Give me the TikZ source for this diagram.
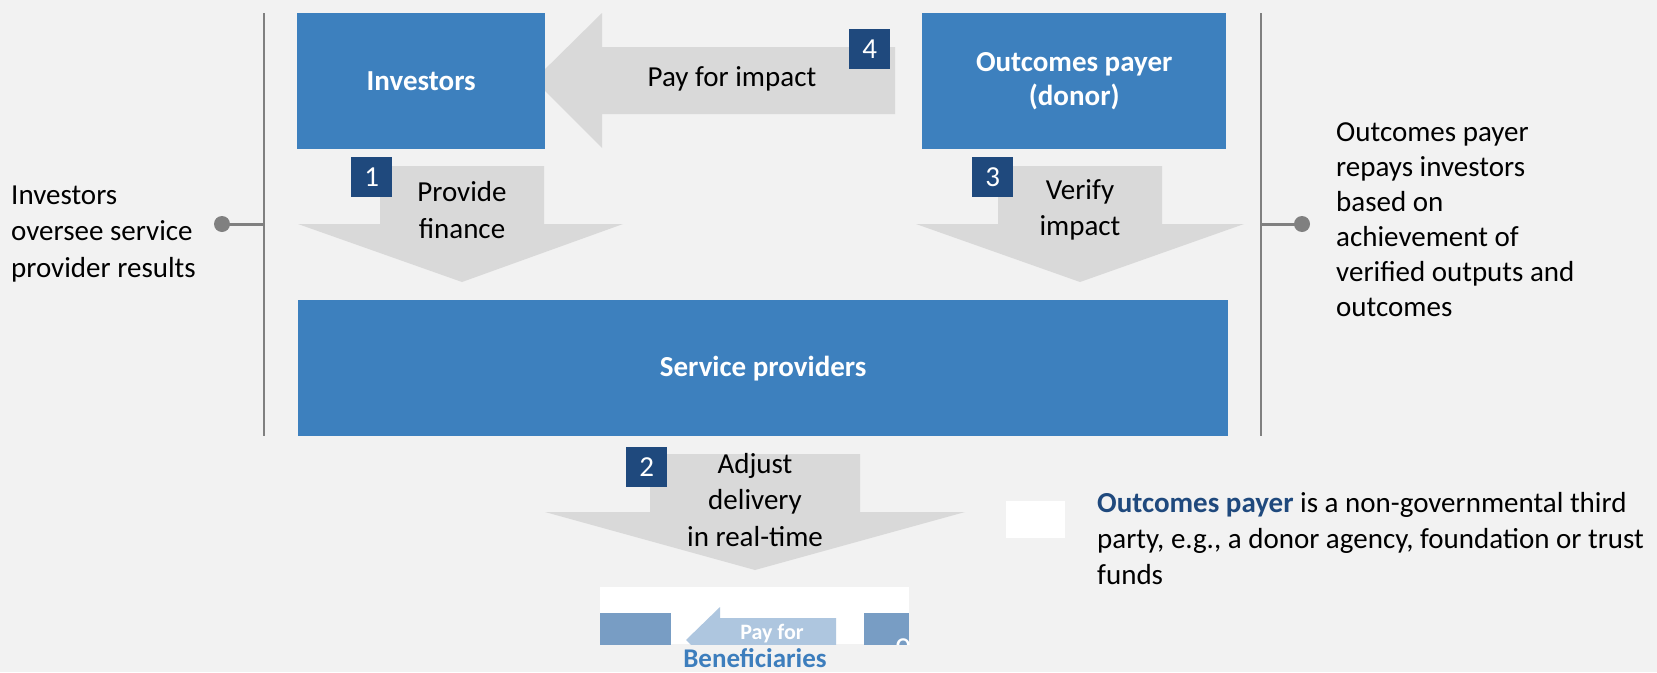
\documentclass[tikz,border=0pt]{standalone}
\usepackage{fontspec}
\setmainfont{Carlito}
\definecolor{bg}{HTML}{F2F2F2}
\definecolor{boxblue}{HTML}{3D80BE}
\definecolor{numblue}{HTML}{1F497D}
\definecolor{arrgray}{HTML}{D9D9D9}
\definecolor{linegray}{HTML}{808080}
\definecolor{thumbblue}{HTML}{789DC4}
\definecolor{thumbarrow}{HTML}{AEC6DF}
\definecolor{benblue}{HTML}{3D7EBD}
\tikzset{
  bluebox/.style={fill=boxblue, anchor=north west, inner sep=0pt, text=white,
    font=\fontsize{29}{34}\selectfont\bfseries, align=center},
  numbox/.style={fill=numblue, anchor=north west, inner sep=0pt, text=white,
    minimum width=41pt, minimum height=40pt, font=\fontsize{29}{34}\selectfont},
  arrowshape/.style={fill=arrgray},
  arrowlabel/.style={inner sep=0pt, align=center, font=\fontsize{29}{36.5}\selectfont},
  sidetext/.style={inner sep=0pt, align=left, anchor=west},
  sidefont/.style={font=\fontsize{29}{36.5}\selectfont},
  rightfont/.style={font=\fontsize{29}{35}\selectfont},
  vline/.style={draw=linegray, line width=2.5pt},
  tick/.style={draw=linegray, line width=3pt},
  dotmark/.style={fill=linegray}
}
\begin{document}
\begin{tikzpicture}[x=1pt,y=-1pt]
\fill[bg] (0,0) rectangle (1657,672);
\useasboundingbox (0,0) rectangle (1657,672);

% block arrows
\fill[arrowshape] (534,80) -- (602,13) -- (602,47) -- (895,47) -- (895,114) -- (602,114) -- (602,148) -- cycle;
\fill[arrowshape] (380,166) -- (544,166) -- (544,224) -- (623,224) -- (462,282) -- (298,224) -- (380,224) -- cycle;
\fill[arrowshape] (998,166) -- (1162,166) -- (1162,224) -- (1244,224) -- (1080,282) -- (916,224) -- (998,224) -- cycle;
\fill[arrowshape] (650,454) -- (860,454) -- (860,512) -- (965,512) -- (755,570) -- (545,512) -- (650,512) -- cycle;

% main boxes
\node[bluebox, minimum width=248pt, minimum height=136pt] (inv) at (297,13) {Investors};
\node[bluebox, minimum width=304pt, minimum height=136pt] (out) at (922,13) {Outcomes payer\\(donor)};
\node[bluebox, minimum width=930pt, minimum height=136pt] (sp) at (298,300) {Service providers};

% arrow labels
\node[arrowlabel] (lpay) at (732,79) {Pay for impact};
\node[arrowlabel] (lfin) at (462,210) {Provide\\finance};
\node[arrowlabel] (lver) at (1080,210) {Verify\\impact};
\node[arrowlabel] (ladj) at (755,500) {Adjust\\delivery\\in real-time};

% number boxes
\node[numbox] (n4) at (849,29) {4};
\node[numbox] (n1) at (351,157) {1};
\node[numbox] (n3) at (972,157) {3};
\node[numbox] (n2) at (626,447) {2};

% side lines
\coordinate (lt) at (264,13);
\coordinate (lb) at (264,436);
\coordinate (lm) at (264,224);
\coordinate (rt) at (1261,13);
\coordinate (rb) at (1261,436);
\coordinate (rm) at (1261,224);
\draw[vline] (lt) -- (lb);
\draw[vline] (rt) -- (rb);
\node[circle, dotmark, minimum size=16pt, inner sep=0pt] (ldot) at (222,224) {};
\node[circle, dotmark, minimum size=16pt, inner sep=0pt] (rdot) at (1302,224) {};
\draw[tick] (ldot.center) -- (lm);
\draw[tick] (rm) -- (rdot.center);

% side texts
\node[sidetext, sidefont] (ltext) at (11,234) {Investors\\oversee service\\provider results};
\node[sidetext, rightfont] (rtext) at (1336,220) {Outcomes payer\\repays investors\\based on\\achievement of\\verified outputs and\\outcomes};

% legend
\node[fill=white, anchor=north west, minimum width=59pt, minimum height=37pt, inner sep=0pt] (legsq) at (1006,501) {};
\node[sidetext, font=\fontsize{29}{36}\selectfont] (legtext) at (1097,539)
  {\textcolor{numblue}{\bfseries Outcomes payer} is a non-governmental third\\party, e.g., a donor agency, foundation or trust\\funds};

% thumbnail
\node[fill=white, anchor=north west, minimum width=309pt, minimum height=57pt, inner sep=0pt] (thumb) at (600,587) {};
\begin{scope}
\clip (600,587) rectangle (909,644);
\fill[thumbblue] (600,613) rectangle (671,650);
\fill[thumbblue] (864,613) rectangle (909,650);
\fill[thumbarrow] (686,640) -- (720,607) -- (720,618) -- (836,618) -- (836,660) -- (720,660) -- (720,673) -- cycle;
\node[text=white, font=\fontsize{22}{24}\selectfont\bfseries, inner sep=0pt] (tpay) at (772,634) {Pay for};
\node[text=white, font=\fontsize{21}{24}\selectfont\bfseries, inner sep=0pt, anchor=north west] (to) at (896,639) {O};
\end{scope}
\node[text=benblue, font=\fontsize{27}{30}\selectfont\bfseries, inner sep=0pt] (ben) at (755,658) {Beneficiaries};
\end{tikzpicture}
\end{document}
